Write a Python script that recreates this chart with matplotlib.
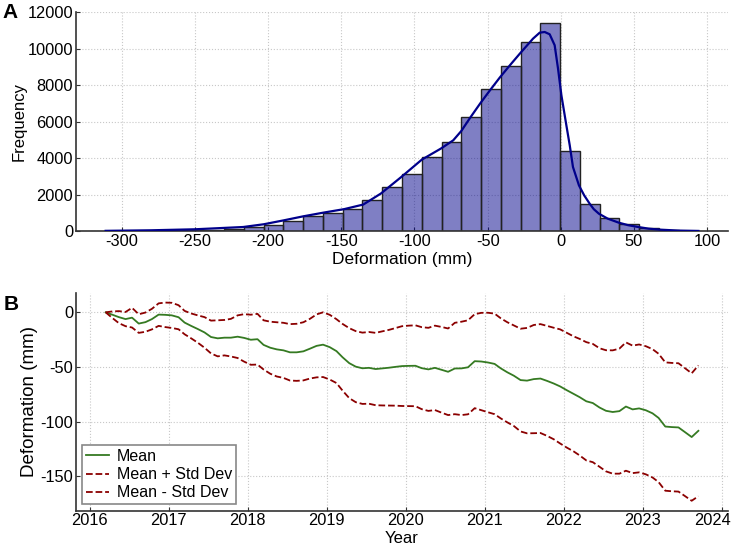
import numpy as np
import pandas as pd
import matplotlib
matplotlib.use("Agg")
import matplotlib.pyplot as plt
import matplotlib.dates as mdates
import matplotlib.transforms as mtransforms

plt.rcParams['font.family'] = ['Liberation Sans', 'DejaVu Sans']
plt.rcParams['axes.unicode_minus'] = False

# Panel A: histogram of deformation (30 bins between data min and max)
def_min, def_max = -311, 94
hist_counts = [5, 8, 15, 30, 50, 80, 130, 220, 350, 550,
               800, 1000, 1220, 1680, 2400, 3120, 4040, 4860, 6230, 7800,
               9030, 10360, 11420, 4380, 1460, 730, 370, 150, 50, 12]

# KDE curve
kde_x = [-311, -280, -250, -217, -203, -189, -176, -162, -148, -135,
         -123, -109, -95, -82, -73.5, -68, -62, -55, -48.5, -41.6,
         -34.8, -28, -19, -14.4, -11, -7.6, -4.2, -1.9, 0.4, 3.8,
         6.1, 8.3, 12.4, 16, 19.7, 22.5, 26, 32, 39.5, 46,
         52.9, 60, 67.4, 80, 94]
kde_y = [10, 40, 95, 220, 370, 590, 805, 1010, 1200, 1450,
         2050, 2960, 3910, 4515, 4970, 5480, 6200, 7000, 7700, 8420,
         9080, 9720, 10540, 10870, 10905, 10780, 10180, 8900, 7440, 5790,
         4700, 3510, 2500, 1950, 1500, 1200, 950, 680, 460, 320,
         220, 130, 77, 25, 5]

# Panel B: monthly mean deformation and standard deviation
start_month = '2016-03-01'
mean_def = [0, -2.2, -4.4, -6.2, -4.9, -10.3, -9.0, -6.2, -2.1, -2.3,
            -2.8, -4.5, -9.4, -12.5, -15.3, -18.4, -22.6, -23.8, -23.2, -23.2,
            -22.3, -23.4, -25.1, -24.6, -29.8, -32.4, -33.9, -34.8, -36.6, -36.6,
            -35.7, -33.3, -30.7, -29.6, -31.9, -35.5, -41.1, -46.5, -49.7, -51.2,
            -50.8, -51.9, -51.3, -50.7, -49.9, -49.2, -49.0, -48.9, -51.1, -52.2,
            -50.8, -52.6, -54.4, -51.4, -51.3, -50.3, -44.7, -45.0, -45.9, -47.2,
            -51.2, -54.9, -58.0, -62.0, -62.5, -61.1, -60.6, -62.7, -65.1, -67.8,
            -71.3, -74.6, -77.6, -81.4, -83.0, -87.1, -90.1, -91.2, -90.4, -86.2,
            -88.8, -87.9, -89.6, -92.4, -96.6, -104.5, -105.0, -105.3, -109.6, -114.1,
            -108.4]
std_def = [0, 3.0, 5.5, 6.5, 9.0, 8.5, 8.8, 9.4, 10.3, 11.2,
           11.5, 11.0, 10.7, 11.4, 12.5, 14.0, 15.0, 16.5, 16.2, 17.2,
           19.5, 21.7, 22.9, 23.2, 22.5, 23.8, 24.8, 25.2, 25.8, 26.1,
           26.6, 27.3, 28.8, 29.6, 29.6, 29.2, 30.5, 32.0, 32.5, 32.6,
           32.8, 33.1, 33.9, 34.6, 35.5, 36.5, 36.8, 37.0, 37.5, 38.0,
           38.6, 39.2, 39.6, 41.8, 42.7, 43.0, 43.0, 44.5, 45.5, 46.0,
           45.8, 45.8, 46.0, 47.0, 48.2, 49.5, 49.8, 50.3, 51.0, 52.2,
           52.5, 52.6, 53.3, 54.1, 54.1, 54.2, 55.4, 56.4, 57.2, 58.7,
           58.3, 58.5, 58.6, 58.7, 58.7, 58.7, 58.7, 58.7, 58.5, 58.3,
           59.8]

dates = pd.date_range(start_month, periods=len(mean_def), freq='MS') + pd.Timedelta(days=14)
mean_arr = np.array(mean_def)
std_arr = np.array(std_def)

fig = plt.figure(figsize=(7.33, 5.49), dpi=100)
ax1 = fig.add_axes([0.1037, 0.5792, 0.8895, 0.3989])
ax2 = fig.add_axes([0.1037, 0.0698, 0.8895, 0.3971])

spine_col = '#333333'
grid_kw = dict(color='#c8c8c8', linestyle=':', linewidth=0.8)

# --- Panel A ---
edges = np.linspace(def_min, def_max, len(hist_counts) + 1)
ax1.bar(edges[:-1], hist_counts, width=np.diff(edges), align='edge',
        color=(0, 0, 0.545, 0.5), edgecolor='#222222', linewidth=1.0, zorder=2)
ax1.plot(kde_x, kde_y, color='darkblue', linewidth=1.6, zorder=3)
ax1.set_ylim(0, 12000)
ax1.set_yticks(np.arange(0, 12001, 2000))
ax1.set_xticks(np.arange(-300, 101, 50))
ax1.set_xlabel('Deformation (mm)', fontsize=12.5, labelpad=2)
ax1.set_ylabel('Frequency', fontsize=12, labelpad=1)

# --- Panel B ---
ax2.plot(dates, mean_arr, color='#357a22', linewidth=1.3, label='Mean')
ax2.plot(dates, mean_arr + std_arr, color='darkred', linestyle='--', linewidth=1.3,
         label='Mean + Std Dev')
ax2.plot(dates, mean_arr - std_arr, color='darkred', linestyle='--', linewidth=1.3,
         label='Mean - Std Dev')
ax2.xaxis.set_major_locator(mdates.YearLocator())
ax2.xaxis.set_major_formatter(mdates.DateFormatter('%Y'))
ax2.set_yticks([-150, -100, -50, 0])
ax2.set_xlabel('Year', fontsize=12, labelpad=2)
ax2.set_ylabel('Deformation (mm)', fontsize=13.5, labelpad=2)
leg = ax2.legend(loc='lower left', fontsize=11.5, fancybox=False, framealpha=1,
                 edgecolor='#888888', borderaxespad=0.4, handlelength=1.4,
                 handletextpad=0.5, labelspacing=0.2, borderpad=0.25)
leg.get_frame().set_linewidth(1.2)

for ax, fs in ((ax1, 11.8), (ax2, 11.8)):
    ax.grid(True, **grid_kw)
    ax.set_axisbelow(True)
    for s in ('top', 'right'):
        ax.spines[s].set_visible(False)
    for s in ('left', 'bottom'):
        ax.spines[s].set_color(spine_col)
        ax.spines[s].set_linewidth(1.2)
    ax.tick_params(direction='in', length=3, width=0.8, colors=spine_col,
                   labelcolor='black', labelsize=fs, pad=2)

fig.text(0.003, 0.995, 'A', fontsize=15, fontweight='bold', va='top', ha='left')
fig.text(0.005, 0.4627, 'B', fontsize=15, fontweight='bold', va='top', ha='left')

# nudge the last year label so it stays inside the figure
fig.canvas.draw()
shift = mtransforms.ScaledTranslation(-9 / 100, 0, fig.dpi_scale_trans)
for lbl in ax2.get_xticklabels():
    if lbl.get_text() == '2024':
        lbl.set_transform(lbl.get_transform() + shift)

fig.savefig('out.png', dpi=100)
